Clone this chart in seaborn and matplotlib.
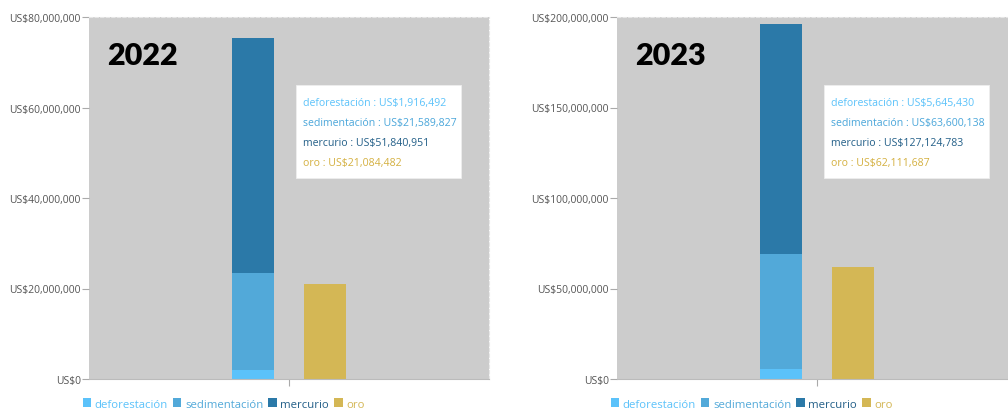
import numpy as np
import pandas as pd
import matplotlib
matplotlib.use("Agg")
import matplotlib.pyplot as plt
from matplotlib.patches import Patch, Rectangle
import seaborn as sns

# Valores (US$) por año
anios = ["2022", "2023"]
deforestacion = [1916492, 5645430]
sedimentacion = [21589827, 63600138]
mercurio = [51840951, 127124783]
oro = [21084482, 62111687]
ymax = [80000000, 200000000]
yticks = [
    [0, 20000000, 40000000, 60000000, 80000000],
    [0, 50000000, 100000000, 150000000, 200000000],
]

series = ["deforestación", "sedimentación", "mercurio", "oro"]
colores = {
    "deforestación": "#5bc2fa",
    "sedimentación": "#52a9d9",
    "mercurio": "#2b79a8",
    "oro": "#d4b755",
}
texto_tooltip = {
    "deforestación": "#5bc2fa",
    "sedimentación": "#4aa6da",
    "mercurio": "#235f88",
    "oro": "#d4b040",
}

sns.set_theme(style="white")
plt.rcParams["font.family"] = ["Open Sans", "DejaVu Sans"]

fig = plt.figure(figsize=(10.08, 4.10), dpi=100)
posiciones = [
    [89 / 1008, 30 / 410, 400 / 1008, 362 / 410],
    [617 / 1008, 30 / 410, 400 / 1008, 362 / 410],
]


def fmt(v):
    return "US${:,.0f}".format(v)


for i, anio in enumerate(anios):
    ax = fig.add_axes(posiciones[i])
    ax.set_facecolor("#cccccc")

    d, s, m, o = deforestacion[i], sedimentacion[i], mercurio[i], oro[i]
    # capas acumuladas de la barra apilada (de arriba hacia abajo)
    capas = [
        ("mercurio", d + s + m),
        ("sedimentación", d + s),
        ("deforestación", d),
    ]
    for nombre, valor in capas:
        df = pd.DataFrame({
            "anio": [anio, anio],
            "barra": ["impacto", "oro"],
            "valor": [valor, o],
        })
        sns.barplot(
            data=df, x="anio", y="valor", hue="barra",
            hue_order=["impacto", "oro"],
            palette={"impacto": colores[nombre], "oro": colores["oro"]},
            dodge=True, width=0.36, gap=0.42, errorbar=None,
            saturation=1, legend=False, linewidth=0, ax=ax,
        )

    ax.set_xlim(-0.5, 0.5)
    ax.set_ylim(0, ymax[i])
    ax.set_yticks(yticks[i])
    ax.set_yticklabels([fmt(v) for v in yticks[i]])
    ax.set_xticks([0])
    ax.set_xticklabels([""])
    ax.set_xlabel("")
    ax.set_ylabel("")
    ax.tick_params(axis="y", length=5, width=0.8, color="#aaaaaa",
                   labelsize=7.5, labelcolor="#555555", pad=1, left=True)
    ax.tick_params(axis="x", length=5, width=0.8, color="#aaaaaa",
                   direction="out", bottom=True)

    for lado in ["top", "right"]:
        ax.spines[lado].set_visible(True)
        ax.spines[lado].set_color("#e6e6e6")
        ax.spines[lado].set_linestyle((0, (3, 2)))
        ax.spines[lado].set_linewidth(0.8)
    ax.spines["left"].set_visible(False)
    ax.spines["bottom"].set_color("#bbbbbb")
    ax.spines["bottom"].set_linewidth(0.8)

    # Año
    ax.text(0.045, 0.895, anio, transform=ax.transAxes, fontsize=22,
            fontweight="heavy", color="black", va="center", ha="left",
            family=["Lato", "DejaVu Sans"])

    # Recuadro con los valores
    ax.add_patch(Rectangle((0.5175, 0.556), 0.413, 0.257,
                           transform=ax.transAxes, facecolor="white",
                           edgecolor="#eeeeee", linewidth=0.6, zorder=5))
    valores = {"deforestación": d, "sedimentación": s, "mercurio": m, "oro": o}
    for k, nombre in enumerate(series):
        ax.text(0.535, 0.765 - k * 0.0553, f"{nombre} : {fmt(valores[nombre])}",
                transform=ax.transAxes, fontsize=7.6, va="center", ha="left",
                color=texto_tooltip[nombre], zorder=6)

    # Leyenda
    manejadores = [Patch(facecolor=colores[n], edgecolor="none") for n in series]
    leg = ax.legend(manejadores, series, loc="center left",
                    bbox_to_anchor=(-0.016, -0.069), ncol=4, frameon=False,
                    fontsize=8.2, handlelength=0.75, handleheight=0.75,
                    handletextpad=0.3, columnspacing=0.45, borderaxespad=0,
                    borderpad=0)
    for t, n in zip(leg.get_texts(), series):
        t.set_color(colores[n] if n != "mercurio" else "#235f88")

fig.savefig("out.png", dpi=100)
